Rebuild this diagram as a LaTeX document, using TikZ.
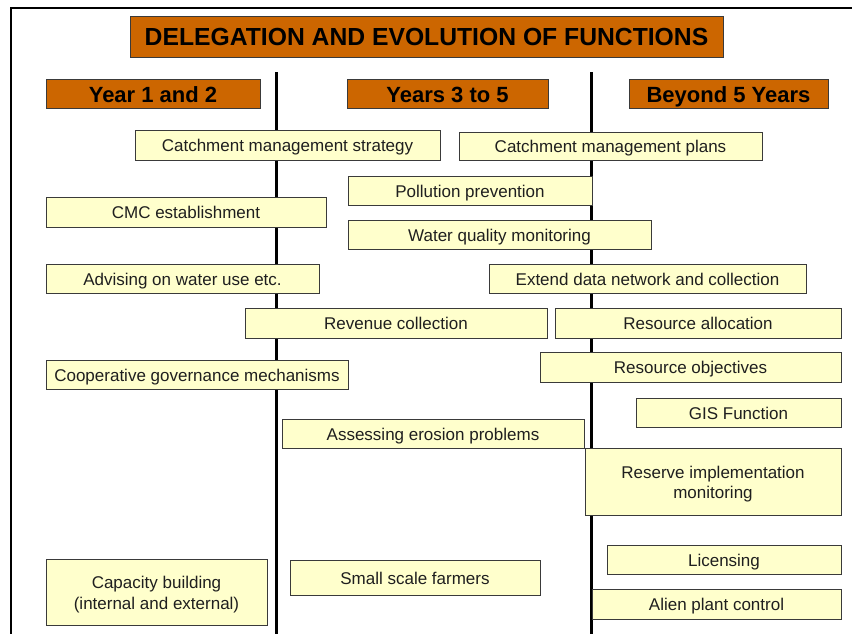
\documentclass[tikz,border=0pt]{standalone}
\usepackage{fontspec}
\setmainfont{Liberation Sans}
\definecolor{hdrfill}{HTML}{CC6600}
\definecolor{taskfill}{HTML}{FFFFCC}
\definecolor{edge}{HTML}{3A3A3A}
\begin{document}
\begin{tikzpicture}[x=1pt,y=-1pt,
  taskbox/.style={draw=edge, line width=0.8pt, fill=taskfill, inner sep=0pt,
    align=center, font=\fontsize{17}{20.5}\selectfont, text=black!88},
  oneline/.style={text height=14pt, text depth=1pt},
  hdrbox/.style={draw=edge, line width=0.8pt, fill=hdrfill, inner sep=0pt,
    font=\fontsize{22}{25}\selectfont\bfseries, minimum height=29pt,
    text height=18.5pt, text depth=0.5pt},
  divider/.style={line width=3pt, black}]
\useasboundingbox (0,0) rectangle (852,633);
\clip (0,0) rectangle (852,633);
% outer frame
\draw[line width=2.5pt] (11,8) rectangle (880,660);
% column dividers
\coordinate (d1t) at (276,72); \coordinate (d1b) at (276,640);
\coordinate (d2t) at (591,72); \coordinate (d2b) at (591,640);
\draw[divider] (d1t) -- (d1b);
\draw[divider] (d2t) -- (d2b);
% title and column headers
\node[hdrbox, font=\fontsize{24.7}{28}\selectfont\bfseries, minimum width=593pt, minimum height=41pt, text height=19.5pt, text depth=1pt] (title) at (426.5,36.5) {DELEGATION AND EVOLUTION OF FUNCTIONS};
\node[hdrbox, minimum width=214pt] (h1) at (153,93.5) {Year 1 and 2};
\node[hdrbox, minimum width=201pt] (h2) at (447.5,93.5) {Years 3 to 5};
\node[hdrbox, minimum width=199pt] (h3) at (728.5,93.5) {Beyond 5 Years};
% functions
\node[taskbox, oneline, minimum width=305pt, minimum height=30pt] (cms) at (287.5,145) {Catchment management strategy};
\node[taskbox, oneline, minimum width=303pt, minimum height=28pt] (cmp) at (610.5,146) {Catchment management plans};
\node[taskbox, oneline, minimum width=244pt, minimum height=29pt] (pp) at (470,190.5) {Pollution prevention};
\node[taskbox, oneline, minimum width=280pt, minimum height=30pt] (cmc) at (186,212) {CMC establishment};
\node[taskbox, oneline, minimum width=303pt, minimum height=29pt] (wqm) at (499.5,234.5) {Water quality monitoring};
\node[taskbox, oneline, minimum width=273pt, minimum height=29pt] (adv) at (182.5,278.5) {Advising on water use etc.};
\node[taskbox, oneline, minimum width=317pt, minimum height=29pt] (ext) at (647.5,278.5) {Extend data network and collection};
\node[taskbox, oneline, minimum width=302pt, minimum height=30pt] (rev) at (396,323) {Revenue collection};
\node[taskbox, oneline, minimum width=286pt, minimum height=30pt] (ralloc) at (698,323) {Resource allocation};
\node[taskbox, oneline, minimum width=301pt, minimum height=30pt] (robj) at (690.5,367) {Resource objectives};
\node[taskbox, oneline, minimum width=302pt, minimum height=29pt] (coop) at (197,374.5) {Cooperative governance mechanisms};
\node[taskbox, oneline, minimum width=205pt, minimum height=29pt] (gis) at (738.5,412.5) {GIS Function};
\node[taskbox, oneline, minimum width=302pt, minimum height=29pt] (eros) at (433,433.5) {Assessing erosion problems};
\node[taskbox, minimum width=256pt, minimum height=67pt] (resv) at (713,481.5) {};
\node[font=\fontsize{17}{20.5}\selectfont, text=black!88, align=center, inner sep=0pt] (resvtext) at ([yshift=-2.5pt]resv.center) {Reserve implementation\\monitoring};
\node[taskbox, oneline, minimum width=234pt, minimum height=29pt] (lic) at (724,559.5) {Licensing};
\node[taskbox, oneline, minimum width=250pt, minimum height=35pt] (ssf) at (415,577.5) {Small scale farmers};
\node[taskbox, minimum width=221pt, minimum height=66pt] (cap) at (156.5,592) {};
\node[font=\fontsize{17}{20.5}\selectfont, text=black!88, align=center, inner sep=0pt] (captext) at ([yshift=-2.5pt]cap.center) {Capacity building\\(internal and external)};
\node[taskbox, oneline, minimum width=249pt, minimum height=30pt] (alien) at (716.5,604) {Alien plant control};
\end{tikzpicture}
\end{document}
